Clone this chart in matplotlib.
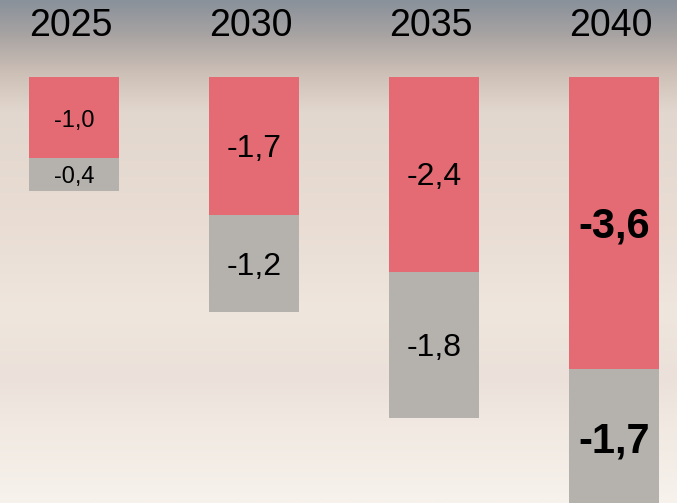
import numpy as np
import matplotlib
matplotlib.use('Agg')
import matplotlib.pyplot as plt
from matplotlib.colors import LinearSegmentedColormap

plt.rcParams['font.family'] = ['Liberation Sans', 'DejaVu Sans']

# data
years = ['2025', '2030', '2035', '2040']
upper = [-1.0, -1.7, -2.4, -3.6]   # red segment
lower = [-0.4, -1.2, -1.8, -1.7]   # gray segment

RED = '#e46b74'
GRAY = '#b5b1ad'

fig = plt.figure(figsize=(6.77, 5.03), dpi=100)

# background gradient (sky-ish)
bg = fig.add_axes([0, 0, 1, 1], zorder=0)
stops = [(0.0, '#89919a'), (0.07, '#a9a4a3'), (0.14, '#cbbeb5'),
         (0.22, '#e2d7ce'), (0.45, '#e9ddd4'), (0.62, '#efe6dd'),
         (0.75, '#ebe1da'), (0.85, '#f1e9e2'), (1.0, '#f7f2ec')]
cmap = LinearSegmentedColormap.from_list('bg', stops)
grad = np.linspace(0, 1, 256).reshape(-1, 1)
bg.imshow(grad, aspect='auto', cmap=cmap, extent=[0, 1, 1, 0])
bg.set_axis_off()

ax = fig.add_axes([0, 0, 1, 1], zorder=1)
ax.patch.set_alpha(0)
x = np.arange(len(years))
w = 0.5
ax.bar(x, upper, w, color=RED)
ax.bar(x, lower, w, bottom=upper, color=GRAY)

ax.set_xlim(-0.411, 3.35)
ax.set_ylim(-5.246, 0.948)
ax.set_axis_off()

sizes = [17, 23, 23, 30]
weights = ['normal', 'normal', 'normal', 'bold']
fmt = lambda v: f'{v:.1f}'.replace('.', ',')

def label(xv, yv, s, **kw):
    ax.annotate(s, (xv, yv), xytext=(0, -2.2), textcoords='offset points',
                ha='center', va='center', **kw)

for i, yr in enumerate(years):
    label(x[i] - 0.015, 0.665, yr, fontsize=27)
    label(x[i], upper[i] / 2, fmt(upper[i]),
          fontsize=sizes[i], fontweight=weights[i])
    label(x[i], upper[i] + lower[i] / 2, fmt(lower[i]),
          fontsize=sizes[i], fontweight=weights[i])

fig.savefig('out.png', dpi=100)
